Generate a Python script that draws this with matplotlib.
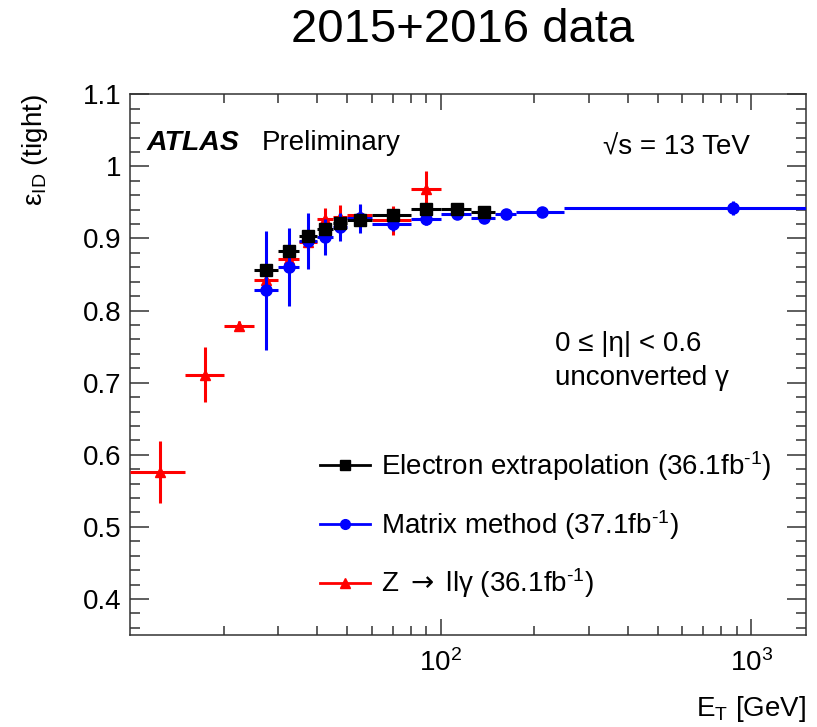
import matplotlib
matplotlib.use("Agg")
import matplotlib.pyplot as plt
from matplotlib.lines import Line2D
from matplotlib.ticker import FixedLocator, FuncFormatter, LogLocator, NullFormatter, LogFormatterMathtext
import numpy as np

plt.rcParams['font.family'] = ['Liberation Sans', 'DejaVu Sans']
plt.rcParams['mathtext.fontset'] = 'custom'
plt.rcParams['mathtext.rm'] = 'Liberation Sans'
plt.rcParams['mathtext.it'] = 'Liberation Sans:italic'
plt.rcParams['mathtext.bf'] = 'Liberation Sans:bold'
plt.rcParams['mathtext.sf'] = 'DejaVu Sans'

# ---------------- data ----------------
# Electron extrapolation (black squares)
ee_lo = [25, 30, 35, 40, 45, 50, 60, 80, 100, 125]
ee_hi = [30, 35, 40, 45, 50, 60, 80, 100, 125, 150]
ee_eff = [0.856, 0.883, 0.903, 0.913, 0.921, 0.926, 0.932, 0.941, 0.941, 0.937]
ee_err = [0.005, 0.005, 0.005, 0.005, 0.005, 0.005, 0.005, 0.005, 0.005, 0.005]

# Matrix method (blue circles)
mm_lo = [25, 30, 35, 40, 45, 50, 60, 80, 100, 125, 150, 175, 250]
mm_hi = [30, 35, 40, 45, 50, 60, 80, 100, 125, 150, 175, 250, 1500]
mm_eff = [0.828, 0.860, 0.897, 0.902, 0.916, 0.928, 0.920, 0.927, 0.934, 0.929, 0.934, 0.937, 0.942]
mm_err = [0.083, 0.054, 0.039, 0.025, 0.020, 0.020, 0.009, 0.008, 0.006, 0.006, 0.006, 0.006, 0.010]

# Z -> ll gamma (red triangles)
zl_lo = [10, 15, 20, 25, 30, 35, 40, 45, 50, 60, 80]
zl_hi = [15, 20, 25, 30, 35, 40, 45, 50, 60, 80, 100]
zl_eff = [0.576, 0.711, 0.779, 0.843, 0.871, 0.895, 0.927, 0.930, 0.932, 0.925, 0.969]
zl_err = [0.043, 0.038, 0.006, 0.010, 0.008, 0.012, 0.015, 0.016, 0.015, 0.020, 0.024]

labels = ["Electron extrapolation (36.1fb$^{\\text{-1}}$)",
          "Matrix method (37.1fb$^{\\text{-1}}$)",
          "Z $\\mathsf{\\rightarrow}$ ll\u03b3 (36.1fb$^{\\text{-1}}$)"]

y_ticks = [0.4, 0.5, 0.6, 0.7, 0.8, 0.9, 1.0, 1.1]
x_ticks = [100, 1000]

W, H = 817, 727
fig = plt.figure(figsize=(W / 100, H / 100), dpi=100)
ax = fig.add_axes([130 / W, 1 - 635 / H, (806 - 130) / W, (635 - 94.3) / H])


def draw(lo, hi, eff, err, color, marker, ms, z):
    lo = np.array(lo, float)
    hi = np.array(hi, float)
    xc = 0.5 * (lo + hi)
    ax.errorbar(xc, eff, xerr=[xc - lo, hi - xc], yerr=err, fmt=marker,
                color=color, ecolor=color, ms=ms, elinewidth=2.2, capsize=0,
                mec=color, mfc=color, zorder=z)


draw(zl_lo, zl_hi, zl_eff, zl_err, 'red', '^', 7, 3)
draw(mm_lo, mm_hi, mm_eff, mm_err, 'blue', 'o', 8, 4)
draw(ee_lo, ee_hi, ee_eff, ee_err, 'black', 's', 8, 5)

ax.set_xscale('log')
ax.set_xlim(10, 1500)
ax.set_ylim(0.35, 1.1)

ax.yaxis.set_major_locator(FixedLocator(y_ticks))
ax.yaxis.set_minor_locator(FixedLocator(np.arange(0.36, 1.1, 0.02)))
ax.yaxis.set_major_formatter(FuncFormatter(lambda v, p: '%g' % round(v, 2)))
ax.xaxis.set_major_locator(FixedLocator(x_ticks))
ax.xaxis.set_major_formatter(LogFormatterMathtext())
ax.xaxis.set_minor_locator(LogLocator(base=10, subs=np.arange(2, 10), numticks=20))
ax.xaxis.set_minor_formatter(NullFormatter())

ax.tick_params(which='both', direction='in', top=True, right=True,
               labelsize=20, colors='#333333', labelcolor='black', width=1.1)
ax.tick_params(axis='y', which='major', length=14, pad=6)
ax.tick_params(axis='y', which='minor', length=7)
ax.tick_params(axis='x', which='major', length=11.5, pad=10)
ax.tick_params(axis='x', which='minor', length=6.5)
for s in ax.spines.values():
    s.set_linewidth(1.1)
    s.set_color('#333333')

ax.set_ylabel('\u03b5$_{\\mathrm{ID}}$ (tight)', fontsize=20, loc='top')
ax.yaxis.set_label_coords(-0.118, 1.0)
ax.set_xlabel('E$_{\\mathrm{T}}$ [GeV]', fontsize=20, loc='right')
ax.xaxis.set_label_coords(1.0, -0.11)

fig.text(463 / W, 1 - 30 / H, '2015+2016 data', fontsize=34, ha='center', va='center')

ax.text(0.025, 0.897, 'ATLAS', transform=ax.transAxes, fontsize=20.5,
        fontweight='bold', fontstyle='italic', va='baseline')
ax.text(0.195, 0.897, 'Preliminary', transform=ax.transAxes, fontsize=20, va='baseline')
ax.text(0.700, 0.888, '\u221as = 13 TeV', transform=ax.transAxes, fontsize=20, va='baseline')
ax.text(0.629, 0.525, '0 \u2264 |\u03b7| < 0.6', transform=ax.transAxes, fontsize=20, va='baseline')
ax.text(0.629, 0.462, 'unconverted \u03b3', transform=ax.transAxes, fontsize=20, va='baseline')

handles = [Line2D([], [], color='black', marker='s', ms=7, lw=2),
           Line2D([], [], color='blue', marker='o', ms=7, lw=2),
           Line2D([], [], color='red', marker='^', ms=7, lw=2)]
ax.legend(handles, labels, loc='upper left', bbox_to_anchor=(320 / W, 1 - 449 / H),
          bbox_transform=fig.transFigure, frameon=False, fontsize=20,
          handlelength=1.8, handletextpad=0.4, labelspacing=0.9,
          borderpad=0, borderaxespad=0)

fig.savefig('out.png', dpi=100)
